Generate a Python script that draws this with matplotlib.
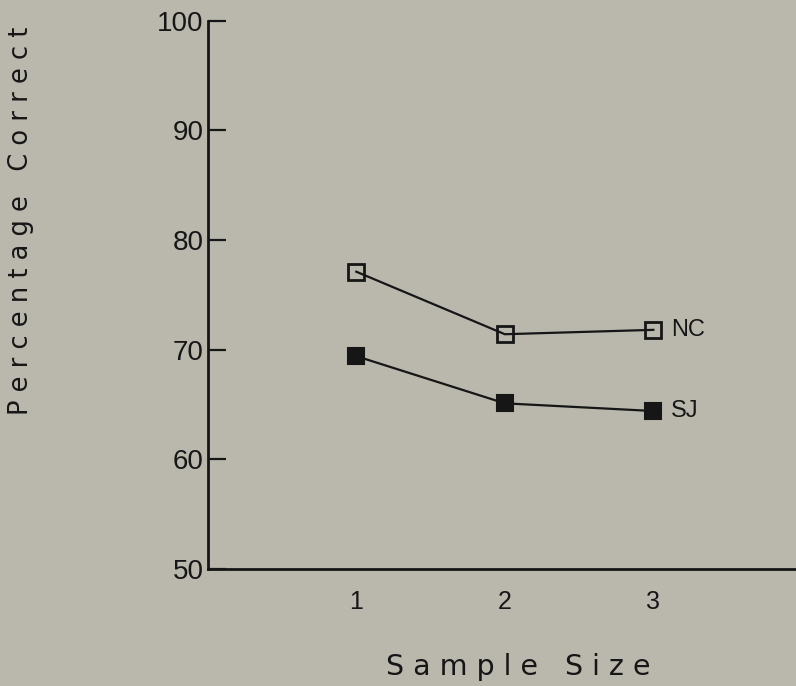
import matplotlib
matplotlib.use("Agg")
import matplotlib.pyplot as plt
from matplotlib import font_manager

sample_sizes = [1, 2, 3]
nc_values = [77.1, 71.4, 71.8]
sj_values = [69.4, 65.1, 64.4]
series_labels = ["NC", "SJ"]
y_ticks = [50, 60, 70, 80, 90, 100]
x_label = "Sample Size"
y_label = "Percentage Correct"

bg = "#bab8ad"
ink = "#161616"

avail = {f.name for f in font_manager.fontManager.ttflist}
fam = "Liberation Sans Narrow" if "Liberation Sans Narrow" in avail else "Liberation Sans"
plt.rcParams["font.family"] = [fam, "DejaVu Sans"]

fig = plt.figure(figsize=(7.96, 6.86), dpi=100, facecolor=bg)
ax = fig.add_axes([0.261, 0.1706, 0.739, 0.7995], facecolor=bg)

ax.plot(sample_sizes, nc_values, color=ink, lw=1.6, marker="s", ms=11,
        mfc="none", mec=ink, mew=2.0)
ax.plot(sample_sizes, sj_values, color=ink, lw=1.6, marker="s", ms=11,
        mfc=ink, mec=ink, mew=1.5)

ax.text(sample_sizes[-1] + 0.12, nc_values[-1], series_labels[0], fontsize=17,
        color=ink, va="center", ha="left")
ax.text(sample_sizes[-1] + 0.12, sj_values[-1], series_labels[1], fontsize=17,
        color=ink, va="center", ha="left")

ax.set_xlim(0, 3.96)
ax.set_ylim(50, 100)
ax.set_yticks(y_ticks)
ax.set_yticklabels([str(v) for v in y_ticks], fontsize=20, color=ink)
ax.set_xticks(sample_sizes)
ax.set_xticklabels([str(v) for v in sample_sizes], fontsize=18, color=ink)

ax.tick_params(axis="y", direction="in", length=13, width=1.6, pad=3, colors=ink)
ax.tick_params(axis="x", length=0, pad=15, colors=ink)

for s in ["top", "right"]:
    ax.spines[s].set_visible(False)
for s in ["left", "bottom"]:
    ax.spines[s].set_color(ink)
    ax.spines[s].set_linewidth(2.0)

fig.text(0.651, 0.028, " ".join(x_label), fontsize=20.5, color=ink,
         ha="center", va="center", family=["DejaVu Sans"])
fig.text(0.027, 0.678, " ".join(y_label), fontsize=18.5, color=ink,
         ha="center", va="center", rotation=90, family=["DejaVu Sans"])

fig.savefig("out.png", dpi=100, facecolor=bg)
